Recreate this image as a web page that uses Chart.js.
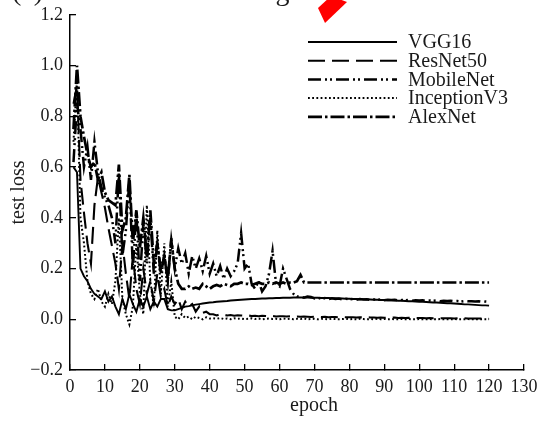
<!DOCTYPE html>
<html><head><meta charset="utf-8">
<script src="https://cdn.jsdelivr.net/npm/chart.js@4.4.1/dist/chart.umd.min.js"></script>
<style>
html,body{margin:0;padding:0;background:#fff;overflow:hidden}
#wrap{position:relative;width:550px;height:421px;overflow:hidden;background:#fff}
#c{position:absolute;left:0;top:-20px}
</style></head>
<body><div id="wrap"><canvas id="c" width="550" height="441"></canvas></div>
<script>
const epochs = [1,2,3,4,5,6,7,8,9,10,11,12,13,14,15,16,17,18,19,20,21,22,23,24,25,26,27,28,29,30,
31,32,33,34,35,36,37,38,39,40,41,42,43,44,45,46,47,48,49,50,51,52,53,54,55,56,57,58,59,60,
61,62,63,64,65,66,67,68,69,70,71,72,73,74,75,76,77,78,79,80,81,82,83,84,85,86,87,88,89,90,
91,92,93,94,95,96,97,98,99,100,101,102,103,104,105,106,107,108,109,110,111,112,113,114,115,116,117,118,119,120];

const vgg16 = [0.60,0.58,0.20,0.17,0.15,0.12,0.10,0.09,0.08,0.11,
0.07,0.09,0.05,0.02,0.08,0.04,0.10,0.06,0.03,0.08,
0.05,0.09,0.04,0.07,0.05,0.08,0.08,0.04,0.035,0.035,
0.040,0.045,0.050,0.052,0.055,0.058,0.060,0.062,0.064,0.066,
0.067,0.069,0.070,0.071,0.072,0.074,0.075,0.076,0.077,0.078,
0.079,0.080,0.080,0.081,0.082,0.082,0.083,0.083,0.084,0.084,
0.085,0.085,0.085,0.086,0.086,0.086,0.086,0.086,0.085,0.085,
0.085,0.084,0.084,0.084,0.083,0.083,0.082,0.082,0.081,0.081,
0.080,0.080,0.079,0.079,0.078,0.078,0.077,0.077,0.076,0.076,
0.075,0.075,0.074,0.073,0.073,0.072,0.071,0.071,0.070,0.069,
0.069,0.068,0.067,0.066,0.066,0.065,0.064,0.063,0.063,0.062,
0.061,0.060,0.059,0.059,0.058,0.057,0.056,0.055,0.055,0.054];

const resnet50 = [0.85,0.92,0.55,0.42,0.30,0.22,0.45,0.56,0.50,0.44,
0.36,0.29,0.22,0.12,0.30,0.18,0.08,0.25,0.12,0.06,
0.20,0.10,0.15,0.07,0.18,0.09,0.12,0.05,0.09,0.06,
0.08,0.04,0.07,0.05,0.06,0.03,0.05,0.025,0.03,0.02,
0.020,0.015,0.020,0.018,0.015,0.017,0.014,0.016,0.015,0.014,
0.015,0.013,0.014,0.012,0.014,0.013,0.012,0.013,0.011,0.012,
0.012,0.011,0.012,0.010,0.011,0.010,0.011,0.010,0.009,0.010,
0.010,0.009,0.010,0.008,0.009,0.009,0.008,0.009,0.008,0.008,
0.008,0.007,0.008,0.007,0.008,0.007,0.007,0.006,0.007,0.006,
0.006,0.006,0.007,0.005,0.006,0.005,0.006,0.005,0.005,0.005,
0.005,0.004,0.005,0.004,0.005,0.004,0.004,0.004,0.004,0.003,
0.004,0.003,0.004,0.003,0.003,0.003,0.003,0.003,0.002,0.002];

const mobilenet = [0.62,0.85,0.75,0.60,0.68,0.55,0.70,0.58,0.52,0.48,
0.45,0.40,0.30,0.58,0.25,0.35,0.55,0.20,0.42,0.15,
0.38,0.22,0.40,0.18,0.30,0.20,0.25,0.15,0.32,0.20,
0.28,0.22,0.26,0.18,0.25,0.20,0.24,0.19,0.25,0.18,
0.22,0.17,0.21,0.16,0.20,0.17,0.19,0.22,0.34,0.20,
0.22,0.14,0.12,0.15,0.11,0.13,0.18,0.27,0.14,0.13,
0.20,0.16,0.12,0.10,0.09,0.09,0.085,0.09,0.088,0.082,
0.086,0.080,0.084,0.079,0.083,0.080,0.082,0.078,0.081,0.079,
0.080,0.077,0.080,0.078,0.079,0.076,0.078,0.077,0.078,0.075,
0.077,0.076,0.077,0.074,0.076,0.075,0.076,0.073,0.075,0.074,
0.075,0.072,0.074,0.073,0.074,0.071,0.073,0.072,0.073,0.071,
0.072,0.070,0.072,0.071,0.071,0.070,0.071,0.069,0.070,0.069];

const inceptionV3 = [0.70,0.95,0.40,0.30,0.15,0.10,0.08,0.12,0.07,0.05,
0.10,0.06,0.15,0.40,0.08,0.02,-0.02,0.05,0.30,0.10,
0.02,0.45,0.15,0.05,0.35,0.10,0.30,0.05,0.15,0.01,
0.0,0.02,0.005,0.01,0.0,0.01,0.005,0.0,0.008,0.003,
0.004,0.002,0.005,0.001,0.003,0.0,0.004,0.002,0.003,0.001,
0.002,0.004,0.001,0.003,0.0,0.002,0.003,0.001,0.002,0.0,
0.003,0.001,0.002,0.0,0.002,0.001,0.003,0.0,0.001,0.002,
0.0,0.002,0.001,0.0,0.002,0.001,0.0,0.001,0.002,0.0,
0.001,0.0,0.002,0.001,0.0,0.001,0.0,0.002,0.0,0.001,
0.0,0.001,0.0,0.0,0.001,0.0,0.001,0.0,0.0,0.001,
0.0,0.0,0.001,0.0,0.0,0.001,0.0,0.0,0.0,0.001,
0.0,0.0,0.0,0.001,0.0,0.0,0.0,0.0,0.0,0.0];

const alexnet = [0.75,1.00,0.80,0.72,0.65,0.60,0.62,0.55,0.58,0.50,
0.47,0.46,0.45,0.61,0.35,0.40,0.57,0.30,0.43,0.28,
0.40,0.25,0.43,0.22,0.30,0.18,0.25,0.16,0.31,0.20,
0.14,0.12,0.12,0.13,0.12,0.125,0.12,0.14,0.13,0.12,
0.13,0.135,0.13,0.14,0.135,0.13,0.14,0.14,0.145,0.14,
0.14,0.135,0.14,0.145,0.14,0.14,0.145,0.14,0.145,0.14,
0.145,0.14,0.145,0.145,0.15,0.175,0.145,0.145,0.145,0.145,
0.145,0.145,0.145,0.145,0.145,0.145,0.145,0.145,0.145,0.145,
0.145,0.145,0.145,0.145,0.145,0.145,0.145,0.145,0.145,0.145,
0.145,0.145,0.145,0.145,0.145,0.145,0.145,0.145,0.145,0.145,
0.145,0.145,0.145,0.145,0.145,0.145,0.145,0.145,0.145,0.145,
0.145,0.145,0.145,0.145,0.145,0.145,0.145,0.145,0.145,0.145];

const seriesNames = ['VGG16','ResNet50','MobileNet','InceptionV3','AlexNet'];
const chartTitle = '(a)Loss curve of training set';
const xTitle = 'epoch';
const yTitle = 'test loss';

const FONT = "'Liberation Serif','Times New Roman',serif";
const TXT = '#1a1a1a';

function ds(label, data, dash, width) {
  return { label, data, borderColor: '#000', backgroundColor: '#000', borderWidth: width,
    borderDash: dash, pointRadius: 0, pointHoverRadius: 0, fill: false, tension: 0,
    borderCapStyle: 'butt', borderJoinStyle: 'miter' };
}

const insideLegend = {
  id: 'insideLegend',
  afterDatasetsDraw(chart) {
    const ctx = chart.ctx;
    const x0 = 308, x1 = 397, tx = 408;
    const yStart = 62, dy = 18.7;
    chart.data.datasets.forEach((d, i) => {
      const y = yStart + i * dy;
      ctx.save();
      ctx.strokeStyle = d.borderColor;
      ctx.lineWidth = d.borderWidth;
      ctx.lineCap = 'butt';
      ctx.setLineDash(d.borderDash || []);
      ctx.beginPath(); ctx.moveTo(x0, y); ctx.lineTo(x1, y); ctx.stroke();
      ctx.setLineDash([]);
      ctx.fillStyle = TXT;
      ctx.font = "20px " + FONT;
      ctx.textBaseline = 'middle';
      ctx.textAlign = 'left';
      ctx.fillText(d.label, tx, y + 1);
      ctx.restore();
    });
  }
};

const extras = {
  id: 'extras',
  beforeDraw(chart) {
    const s = chart.scales.x;
    if (s && !s._shifted) {
      const orig = s.drawTitle;
      s.drawTitle = function () { const c = this.ctx; c.save(); c.translate(17, 0); orig.call(this); c.restore(); };
      s._shifted = true;
    }
  },
  afterDraw(chart) {
    const ctx = chart.ctx;
    ctx.save();
    ctx.fillStyle = '#ff0000';
    ctx.beginPath();
    ctx.moveTo(318, 28); ctx.lineTo(331, 16); ctx.lineTo(347, 22); ctx.lineTo(325, 43);
    ctx.closePath(); ctx.fill();
    ctx.restore();
  }
};

new Chart(document.getElementById('c'), {
  type: 'line',
  data: {
    labels: epochs,
    datasets: [
      ds(seriesNames[0], vgg16, [], 1.9),
      ds(seriesNames[1], resnet50, [17, 7], 2.1),
      ds(seriesNames[2], mobilenet, [13, 4, 2, 3, 2, 4], 2.5),
      ds(seriesNames[3], inceptionV3, [1.8, 2.4], 2),
      ds(seriesNames[4], alexnet, [14, 3, 2.5, 3], 2.7)
    ]
  },
  options: {
    responsive: false,
    animation: false,
    devicePixelRatio: 1,
    layout: { padding: { left: 12, right: 18, top: 0, bottom: 0 } },
    plugins: {
      legend: { display: false },
      tooltip: { enabled: false },
      title: {
        display: true, text: chartTitle, align: 'start', color: TXT,
        font: { family: FONT, size: 28, weight: 'normal', lineHeight: 1 },
        padding: { top: -1, bottom: 8 }
      }
    },
    scales: {
      x: {
        type: 'linear', min: 0, max: 130,
        ticks: { stepSize: 10, color: TXT, padding: 12.5, maxRotation: 0, autoSkip: false,
          font: { family: FONT, size: 18 } },
        grid: { drawOnChartArea: false, drawTicks: true, tickLength: -6, color: '#000', lineWidth: 1.3 },
        border: { display: true, color: '#000', width: 1.5 },
        title: { display: true, text: xTitle, color: TXT, font: { family: FONT, size: 20 },
          padding: { top: 0, bottom: 3 } },
        afterFit(scale) { scale.height = 51; }
      },
      y: {
        type: 'linear', min: -0.2, max: 1.2,
        ticks: { stepSize: 0.2, color: TXT, padding: 13, font: { family: FONT, size: 18 },
          callback: v => (v < -1e-9 ? '\u2212' : '') + Math.abs(v).toFixed(1) },
        grid: { drawOnChartArea: false, drawTicks: true, tickLength: -6, color: '#000', lineWidth: 1.3 },
        border: { display: true, color: '#000', width: 1.5 },
        title: { display: true, text: yTitle, color: TXT, font: { family: FONT, size: 20 },
          padding: { top: -5.5, bottom: 0 } },
        afterFit(scale) { scale.width = 58; }
      }
    }
  },
  plugins: [insideLegend, extras]
});
</script>
</body></html>
